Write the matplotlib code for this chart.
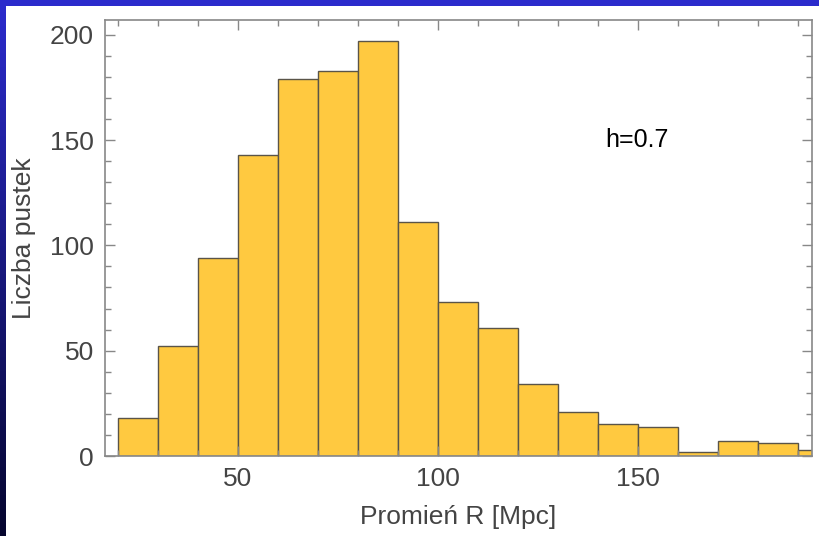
import matplotlib.pyplot as plt
import numpy as np
from matplotlib.ticker import MultipleLocator

# histogram of void radii, bins 10 Mpc wide
bin_left = [20, 30, 40, 50, 60, 70, 80, 90, 100, 110, 120, 130, 140, 150, 160, 170, 180, 190]
counts = [18, 52, 94, 143, 179, 183, 197, 111, 73, 61, 34, 21, 15, 14, 2, 7, 6, 3]
bin_width = 10

xlabel = 'Promień R [Mpc]'
ylabel = 'Liczba pustek'
note = 'h=0.7'

plt.rcParams['font.family'] = ['Liberation Sans', 'DejaVu Sans']

W, H = 819, 536
fig = plt.figure(figsize=(W / 100, H / 100), dpi=100)
fig.patch.set_facecolor('white')

# slide background: blue band on top, dark gradient on the left
top = fig.add_axes([0, 1 - 6 / H, 1, 6 / H])
top.set_axis_off()
top.imshow(np.ones((1, 1, 3)) * np.array([0.17, 0.17, 0.80]), aspect='auto')
left = fig.add_axes([0, 0, 6 / W, 1 - 6 / H])
left.set_axis_off()
g = np.linspace(0, 1, 256)[:, None]
c0 = np.array([0.17, 0.17, 0.80])
c1 = np.array([0.02, 0.02, 0.18])
grad = (c0 * (1 - g) + c1 * g)[:, None, :]
left.imshow(grad, aspect='auto')

ax = fig.add_axes([105 / W, 80 / H, (812 - 105) / W, (456 - 20) / H])
ax.bar(bin_left, counts, width=bin_width, align='edge',
       color='#ffc940', edgecolor='#5a5448', linewidth=1.0)

ax.set_xlim(16.75, 193.5)
ax.set_ylim(0, 207)

ax.xaxis.set_major_locator(MultipleLocator(50))
ax.xaxis.set_minor_locator(MultipleLocator(10))
ax.yaxis.set_major_locator(MultipleLocator(50))
ax.yaxis.set_minor_locator(MultipleLocator(10))
ax.tick_params(which='both', direction='in', top=True, right=True,
               color='#888888', width=1.0)
ax.tick_params(which='major', length=7, labelsize=19, labelcolor='#444444', pad=8)
ax.tick_params(which='minor', length=4)
for s in ax.spines.values():
    s.set_color('#888888')
    s.set_linewidth(1.2)

ax.set_xlabel(xlabel, fontsize=19, color='#444444', labelpad=10)
ax.set_ylabel(ylabel, fontsize=19, color='#444444', labelpad=10)
ax.text(141.75, 150, note, ha='left', va='center', fontsize=18, color='black')

fig.savefig('out.png', dpi=100)
